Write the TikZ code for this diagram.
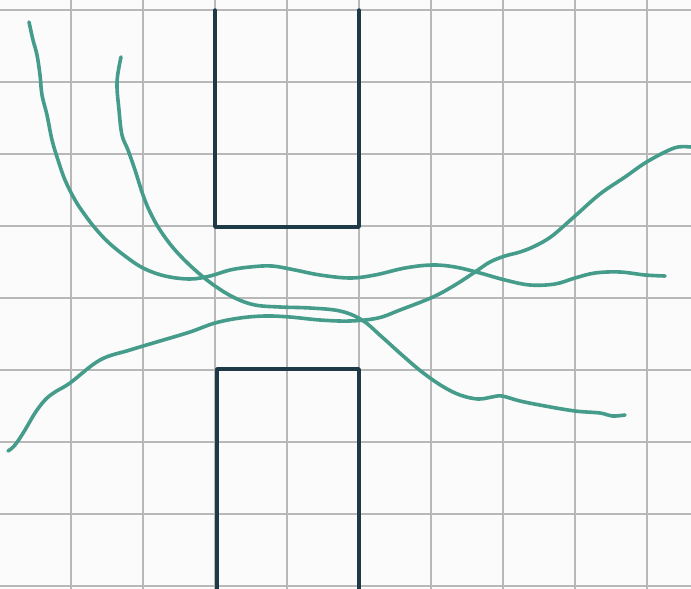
\documentclass[tikz,border=0pt]{standalone}
\definecolor{bgc}{HTML}{FBFBFB}
\definecolor{gridc}{HTML}{B8B8B8}
\definecolor{darkc}{HTML}{1E3A47}
\definecolor{tealc}{HTML}{459C8A}
\tikzset{
  gridline/.style={draw=gridc, line width=1.1pt},
  wall/.style={draw=darkc, line width=3.4pt, line cap=round, line join=round},
  track/.style={draw=tealc, line width=3.6pt, line cap=round, line join=round},
}
\begin{document}
\begin{tikzpicture}[x=1pt,y=-1pt]
\fill[bgc] (0,0) rectangle (691,589);
\useasboundingbox (0,0) rectangle (691,589);
% grid
\foreach \gx in {71,143,215,287,359,431,503,575,647}
  \draw[gridline] (\gx,0) -- (\gx,589);
\foreach \gy in {10,82,154,226,298,370,442,514,586}
  \draw[gridline] (0,\gy) -- (691,\gy);
% walls
\draw[wall] (215,10) -- (215,227) -- (359,227) -- (359,10);
\draw[wall] (217,591) -- (217,369) -- (359,369) -- (359,591);
% track A
\draw[track] plot[smooth, tension=0.6] coordinates {
  (29,22) (33,40) (37,55) (40,75) (42,95) (47,115) (52,140) (58,160) (65,180)
  (75,200) (85,215) (95,228) (108,242) (125,256) (143,268) (165,276) (190,279)
  (210,276) (230,270) (250,267) (272,266) (295,270) (320,275) (350,278) (375,275)
  (405,268) (432,265) (455,267) (480,273) (505,280) (530,285) (555,284) (575,278)
  (595,273) (620,272) (645,275) (665,276)};
% track B
\draw[track] plot[smooth, tension=0.6] coordinates {
  (121,57) (117,82) (119,110) (122,135) (128,150) (135,170) (143,195) (150,212)
  (160,230) (175,250) (195,270) (215,286) (235,298) (255,305) (280,307) (310,308)
  (340,311) (362,320) (382,337) (402,355) (422,372) (442,386) (460,395) (478,399)
  (492,397) (502,396) (520,401) (545,406) (575,411) (600,413) (612,416) (625,415)};
% track C
\draw[track] plot[smooth, tension=0.6] coordinates {
  (8,451) (15,445) (25,430) (35,413) (45,400) (55,392) (70,383) (100,360)
  (130,350) (160,341) (190,332) (215,323) (240,318) (265,316) (290,317) (320,320)
  (350,321) (378,318) (400,310) (433,297) (455,285) (475,272) (490,262) (505,256)
  (520,252) (535,246) (552,236) (575,216) (600,194) (625,177) (645,163) (665,152)
  (678,147) (691,147)};
\end{tikzpicture}
\end{document}
